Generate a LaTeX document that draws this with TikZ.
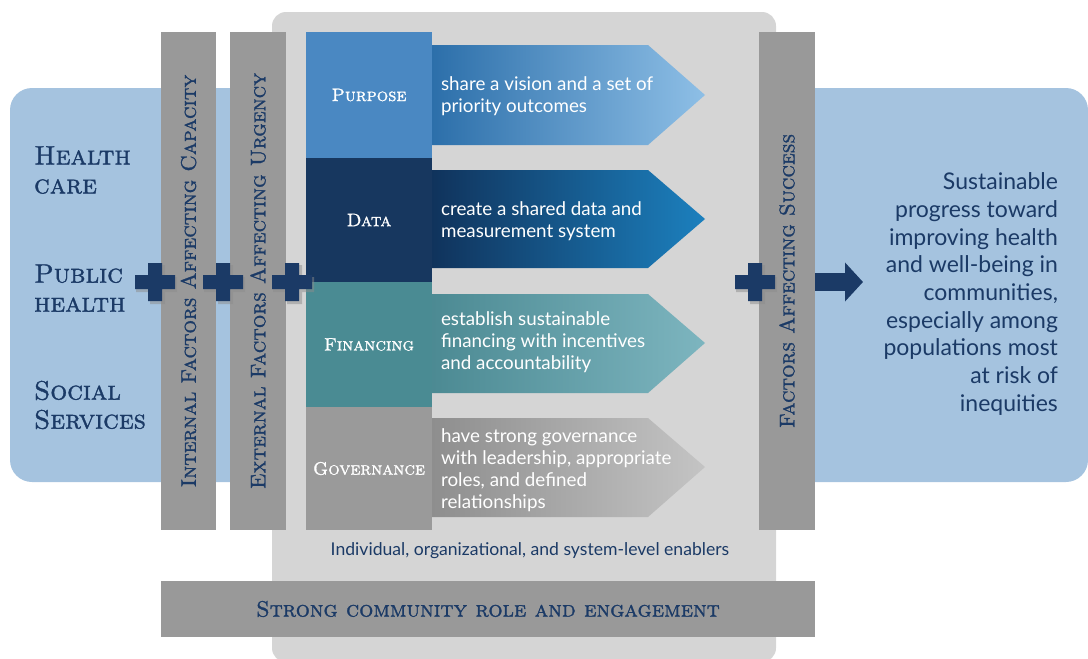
\documentclass[tikz,border=0pt]{standalone}
\usepackage{fontspec}
\setsansfont{Lato}
\newfontfamily\capsfont[FakeBold=1.3]{lmromancaps10-regular.otf}
\usetikzlibrary{arrows.meta,positioning}

\definecolor{navy}{HTML}{1B3A66}
\definecolor{skyback}{HTML}{A5C3DF}
\definecolor{panelgray}{HTML}{D5D5D5}
\definecolor{bargray}{HTML}{999999}
\definecolor{purposecol}{HTML}{4A88C2}
\definecolor{datacol}{HTML}{17375F}
\definecolor{financecol}{HTML}{4A8B93}
\definecolor{govcol}{HTML}{9A9A9A}
% arrow shades
\definecolor{purposeA}{HTML}{2C6FAA}
\definecolor{purposeB}{HTML}{4A9DD8}
\definecolor{purposeC}{HTML}{8EBFE6}
\definecolor{dataA}{HTML}{10335C}
\definecolor{dataB}{HTML}{165A8E}
\definecolor{dataC}{HTML}{1C80BE}
\definecolor{financeA}{HTML}{4C8A93}
\definecolor{financeB}{HTML}{76AEB8}
\definecolor{financeC}{HTML}{7DB5BF}
\definecolor{govA}{HTML}{8E8E8E}
\definecolor{govB}{HTML}{B5B5B5}
\definecolor{govC}{HTML}{C4C4C4}

\begin{document}
\begin{tikzpicture}[x=0.5pt, y=-0.5pt,
	bar/.style={fill=bargray, inner sep=0pt},
	barlabel/.style={rotate=90, font=\capsfont\fontsize{10.6}{12}\selectfont, text=navy},
	pillar/.style={inner sep=0pt, minimum width=63pt, text=white, font=\capsfont\fontsize{9}{10}\selectfont},
	goal/.style={anchor=west, align=left, text=white, font=\sffamily\fontsize{9.4}{11}\selectfont},
	sector/.style={anchor=west, align=left, text=navy, font=\capsfont\fontsize{13.3}{14.5}\selectfont}]
	\useasboundingbox (0,0) rectangle (1088,659);

	% backgrounds
	\fill[skyback, rounded corners=11pt] (10,88) rectangle (330,482);
	\fill[skyback, rounded corners=11pt] (790,88) rectangle (1088,482);
	\fill[panelgray, rounded corners=7pt] (272,12) rectangle (776,662);

	% vertical bars
	\node[bar, minimum width=27.5pt, minimum height=249pt] (internal) at (188.5,281) {};
	\node[bar, minimum width=28pt, minimum height=249pt] (external) at (258,281) {};
	\node[bar, minimum width=28pt, minimum height=249pt] (success) at (787,281) {};
	\node[barlabel] at (internal.center) {Internal Factors Affecting Capacity};
	\node[barlabel] at (external.center) {External Factors Affecting Urgency};
	\node[barlabel] at (success.center) {Factors Affecting Success};

	\node[bar, minimum width=327pt, minimum height=28pt, font=\capsfont\fontsize{11.1}{12}\selectfont, text=navy]
		(community) at (488,609) {Strong community role and engagement};
	\node[text=navy, font=\sffamily\fontsize{8.8}{10}\selectfont] (enablers) at (530,551)
		{Individual, organizational, and system-level enablers};

	% arrows behind the pillars
	\shade[left color=purposeA, middle color=purposeB, right color=purposeC]
		(432,45) -- (648,45) -- (705,95) -- (648,145) -- (432,145) -- cycle;
	\shade[left color=dataA, middle color=dataB, right color=dataC]
		(432,170) -- (648,170) -- (705,219) -- (648,268) -- (432,268) -- cycle;
	\shade[left color=financeA, middle color=financeB, right color=financeC]
		(432,294) -- (648,294) -- (705,343) -- (648,393) -- (432,393) -- cycle;
	\shade[left color=govA, middle color=govB, right color=govC]
		(432,418) -- (648,418) -- (705,467) -- (648,517) -- (432,517) -- cycle;

	% pillars
	\node[pillar, fill=purposecol, minimum height=63pt] (purpose) at (369,95) {Purpose};
	\node[pillar, fill=datacol, minimum height=62pt] (data) at (369,220) {Data};
	\node[pillar, fill=financecol, minimum height=62.5pt] (financing) at (369,344.5) {Financing};
	\node[pillar, fill=govcol, minimum height=61.5pt] (governance) at (369,468.5) {Governance};

	\node[goal] (g1) at (434,96) {share a vision and a set of\\priority outcomes};
	\node[goal] (g2) at (434,221) {create a shared data and\\measurement system};
	\node[goal] (g3) at (434,342) {establish sustainable\\financing with incentives\\and accountability};
	\node[goal] (g4) at (434,470) {have strong governance\\with leadership, appropriate\\roles, and defined\\relationships};

	% sectors on the left
	\node[sector] (care) at (27,170) {Health\\care};
	\node[sector] (public) at (27,288) {Public\\health};
	\node[sector] (social) at (27,405) {Social\\Services};

	% plus signs
	\foreach \px in {155,223,292,755} {
		\fill[black!45, opacity=0.5] (\px-19,282-5) rectangle (\px+22,282+10)
			(\px-5,282-17) rectangle (\px+10,282+22);
		\fill[navy] (\px-20,282-7) rectangle (\px+20,282+7)
			(\px-7,282-19) rectangle (\px+7,282+19);
	}

	% outcome
	\coordinate (arrtip) at (863,282);
	\draw[navy, line width=9pt, -{Triangle[length=9pt, width=19pt]}] (success.east |- arrtip) -- (arrtip);
	\node[anchor=east, align=right, text=navy, font=\sffamily\fontsize{11.5}{13.85}\selectfont] (outcome) at (1065,294)
		{Sustainable\\progress toward\\improving health\\and well-being in\\communities,\\especially among\\populations most\\at risk of\\inequities};
\end{tikzpicture}
\end{document}
